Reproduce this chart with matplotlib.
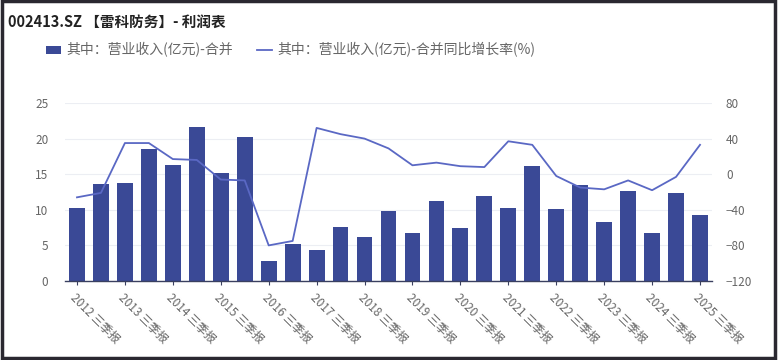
import matplotlib
matplotlib.use('Agg')
import matplotlib.pyplot as plt
import numpy as np
from matplotlib.patches import Rectangle

plt.rcParams['font.family'] = ['Noto Sans CJK SC', 'DejaVu Sans']

years = list(range(2012, 2026))
periods = []
for y in years:
    periods.append('%d 三季报' % y)
    if y < 2025:
        periods.append('%d 年报' % y)

revenue = [10.2, 13.6, 13.8, 18.5, 16.3, 21.6, 15.1, 20.2, 2.8, 5.2,
           4.4, 7.6, 6.2, 9.8, 6.8, 11.2, 7.4, 12.0, 10.2, 16.1,
           10.1, 13.5, 8.3, 12.6, 6.8, 12.3, 9.2]
growth = [-26, -21, 35, 35, 17, 16, -6, -7, -80, -75,
          52, 45, 40, 29, 10, 13, 9, 8, 37, 33,
          -2, -15, -17, -7, -18, -3, 33]

title = '002413.SZ 【雷科防务】- 利润表'
bar_label = '其中：营业收入(亿元)-合并'
line_label = '其中：营业收入(亿元)-合并同比增长率(%)'

bar_color = '#3a4996'
line_color = '#5a68c4'
text_color = '#666666'

fig = plt.figure(figsize=(7.78, 3.6), dpi=100)
ax = fig.add_axes([65/778, 79/360, 647/778, 178/360])
x = np.arange(len(periods))
bars = ax.bar(x, revenue, width=0.66, color=bar_color, zorder=2)
ax.set_xlim(-0.5, len(periods) - 0.5)
ax.set_ylim(0, 25)
ax.set_yticks(np.arange(0, 26, 5))
ax.grid(axis='y', color='#eceef3', linewidth=0.8, zorder=0)
ax.set_axisbelow(True)
for s in ['top', 'right', 'left']:
    ax.spines[s].set_visible(False)
ax.spines['bottom'].set_color('#3a4060')
ax.spines['bottom'].set_linewidth(1.0)
ax.tick_params(axis='y', length=0, labelsize=8.5, labelcolor=text_color, pad=12)
ax.set_xticks(x[::2])
ax.set_xticklabels(periods[::2], rotation=-45, ha='left', rotation_mode='anchor',
                   fontsize=8.5, color=text_color)
ax.tick_params(axis='x', length=3, color='#3a4060', pad=4)

ax2 = ax.twinx()
line, = ax2.plot(x, growth, color=line_color, linewidth=1.3, zorder=3)
ax2.set_ylim(-120, 80)
ax2.set_yticks(np.arange(-120, 81, 40))
for s in ['top', 'right', 'left', 'bottom']:
    ax2.spines[s].set_visible(False)
ax2.tick_params(axis='y', length=0, labelsize=8.5, labelcolor=text_color, pad=10)

fig.text(8/778, 1 - 22/360, title, fontsize=10.5, fontweight='bold', color='#222222',
         va='center', ha='left')
fig.legend([bars, line], [bar_label, line_label], loc='center left',
           bbox_to_anchor=(40/778, 1 - 50/360), ncol=2, frameon=False,
           fontsize=10, handlelength=1.1, handleheight=0.5, columnspacing=1.7,
           labelcolor=text_color, borderaxespad=0, handletextpad=0.4)

fig.patches.append(Rectangle((0.002, 0.006), 0.994, 0.99, transform=fig.transFigure,
                             fill=False, edgecolor='#2a2830', linewidth=2.5))

fig.savefig('out.png', dpi=100)
